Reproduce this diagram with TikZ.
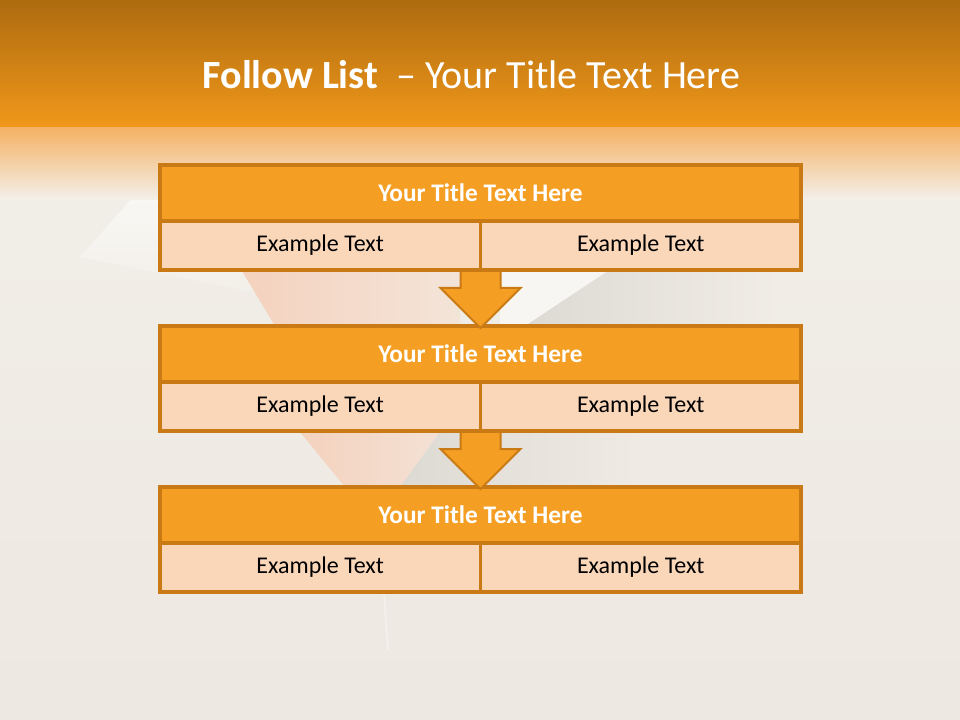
\documentclass[tikz,border=0pt]{standalone}
\usepackage{fontspec}
\setmainfont{Carlito}
\usetikzlibrary{calc}
\definecolor{cream}{HTML}{F3F0EA}
\definecolor{creamdark}{HTML}{EDE8E1}
\definecolor{bandtop}{HTML}{AD6B0F}
\definecolor{bandbot}{HTML}{F1981A}
\definecolor{bandfade}{HTML}{F5B265}
\definecolor{hdrfill}{HTML}{F49E23}
\definecolor{cellfill}{HTML}{FBD7BA}
\definecolor{edgeor}{HTML}{C97A14}
\definecolor{peach}{HTML}{F4D2BE}
\definecolor{shadowgray}{HTML}{DDD9D3}
\colorlet{bgmidA}{cream!58!creamdark}
\colorlet{bgmidB}{cream!36!creamdark}
\tikzset{
  hdr/.style={draw=edgeor, fill=hdrfill, line width=2.4pt, outer sep=0pt,
    minimum width=480.75pt, minimum height=42pt, inner sep=0pt,
    text=white, font=\fontsize{19}{22.8}\selectfont\bfseries},
  cellbox/.style={draw=edgeor, fill=cellfill, line width=2.4pt, outer sep=0pt,
    minimum width=240.4pt, minimum height=36.75pt, inner sep=0pt,
    text=black, font=\fontsize{18}{21.6}\selectfont},
  arrowbox/.style={draw=edgeor, fill=hdrfill, line width=1.5pt, line join=miter},
  titletext/.style={text=white, font=\fontsize{30}{36}\selectfont, inner sep=0pt}
}
\newcommand\flowarrow[2]{%
  \draw[arrowbox] ($(#1)+(-20,0)$) -- ($(#1)+(20,0)$) --
    ($(#2)+(20,-38)$) -- ($(#2)+(40,-38)$) -- ($(#2)+(0,2)$) --
    ($(#2)+(-40,-38)$) -- ($(#2)+(-20,-38)$) -- cycle;}
\begin{document}
\begin{tikzpicture}[x=0.75pt,y=-0.75pt]
\useasboundingbox (0,0) rectangle (960,720);
% background
\shade[top color=cream, bottom color=creamdark] (0,0) rectangle (960,720);
% left white sheet
\shade[top color=white, bottom color=cream, opacity=0.8]
  (80,257) -- (173,152) -- (250,150) -- (262,294) -- cycle;
% peach folds
\shade[left color=peach, right color=cream!60!peach]
  (242,271) -- (460,271) -- (460,326) -- (275,326) -- cycle;
\shade[left color=peach, right color=cream!50!peach]
  (300,432) -- (440,432) -- (400,487) -- (345,487) -- cycle;
% white sheet and gray shadows
\fill[white, opacity=0.55] (500,271) -- (608,271) -- (525,326) -- (500,326) -- cycle;
\shade[left color=shadowgray, right color=bgmidA]
  (608,271) -- (780,271) -- (780,326) -- (525,326) -- cycle;
\shade[left color=shadowgray, right color=bgmidB]
  (440,432) -- (640,432) -- (640,487) -- (400,487) -- cycle;
\draw[white, opacity=0.3, line width=1.5pt] (384,591) -- (388,650);
% top band
\shade[top color=bandtop, bottom color=bandbot] (0,0) rectangle (960,128);
\shade[top color=bandfade, bottom color=cream] (0,128) rectangle (960,200);
\node[titletext] (title) at (471.5,75) {\textbf{Follow List}\ \ – Your Title Text Here};
% tables
\foreach \i/\yy in {1/165,2/326,3/487}{
  \node[hdr, anchor=north] (h\i) at (480.5,\yy) {Your Title Text Here};
  \node[cellbox, anchor=north east] (l\i) at (h\i.south) {Example Text};
  \node[cellbox, anchor=north west] (r\i) at (h\i.south) {Example Text};
}
% arrows
\flowarrow{l1.south east}{h2.north}
\flowarrow{l2.south east}{h3.north}
% table bottom edges over arrow shafts
\foreach \i in {1,2,3}{
  \draw[edgeor, line width=2.4pt] (l\i.south west) -- (r\i.south east);
}
\end{tikzpicture}
\end{document}
